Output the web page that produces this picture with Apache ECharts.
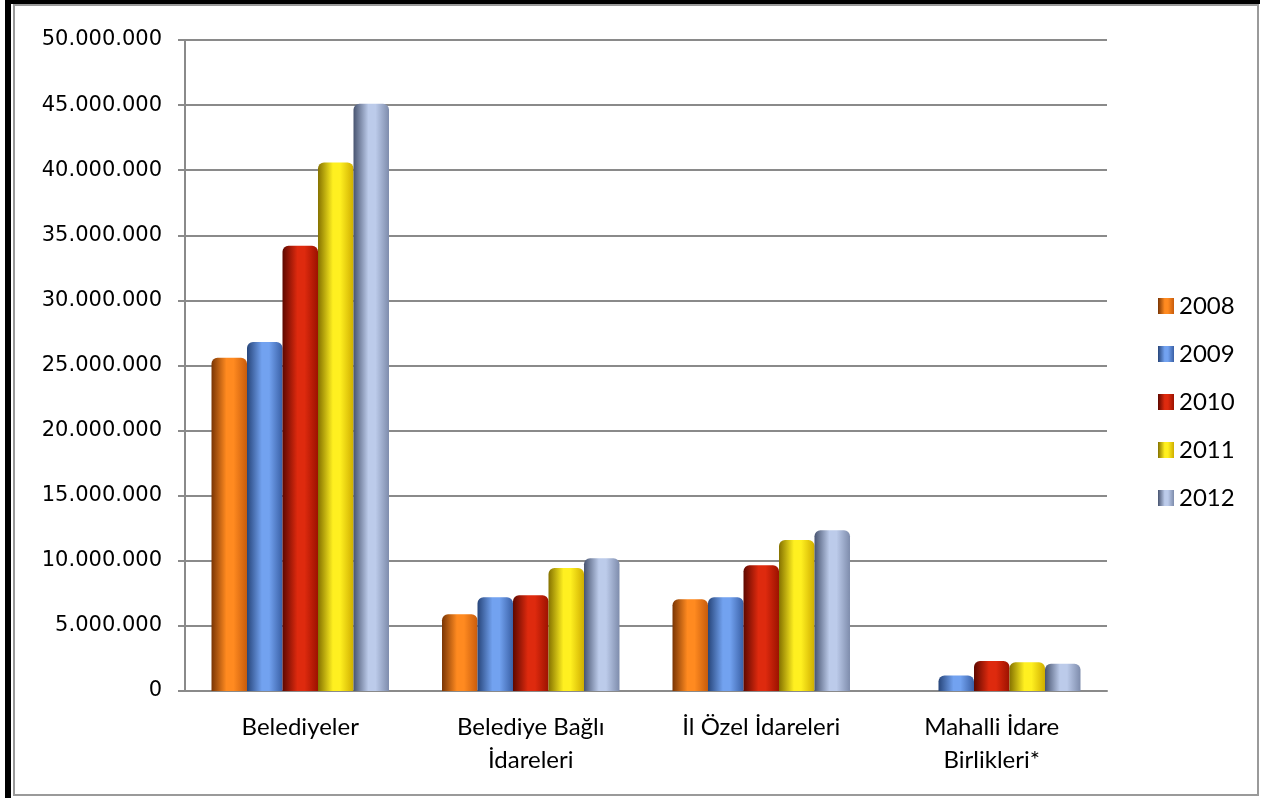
<!DOCTYPE html>
<html>
<head>
<meta charset="utf-8">
<title>Bar chart</title>
<script src="https://cdn.jsdelivr.net/npm/echarts@6/dist/echarts.min.js"></script>
<style>
  html, body { margin: 0; padding: 0; background: #fff; }
  #chart { position: absolute; left: 0; top: 0; width: 1262px; height: 798px; }
  .frame-black { position: absolute; left: 5px; top: 0; width: 1249px; height: 795px;
    border-left: 6px solid #000; border-top: 4px solid #000; border-bottom: 3px solid #000; pointer-events: none; }
  .frame-gray { position: absolute; left: 13px; top: 4px; width: 1242px; height: 788px;
    border: 2px solid #9a9a9a; pointer-events: none; }
</style>
</head>
<body>
<div id="chart"></div>
<div class="frame-black"></div>
<div class="frame-gray"></div>
<script>
var categories = ['Belediyeler', 'Belediye Bağlı\nİdareleri', 'İl Özel İdareleri', 'Mahalli İdare\nBirlikleri*']
var years = ['2008', '2009', '2010', '2011', '2012']
var data2008 = [25600000, 5900000, 7050000, null]
var data2009 = [26800000, 7200000, 7200000, 1200000]
var data2010 = [34200000, 7350000, 9650000, 2300000]
var data2011 = [40600000, 9450000, 11600000, 2200000]
var data2012 = [45100000, 10200000, 12350000, 2100000]

// dark edge, highlight, right edge
var shades = [
  ['#7a3504', '#ff8a20', '#c85c0c'],
  ['#27457a', '#72a2f0', '#3a60a6'],
  ['#5e0800', '#de2a0e', '#9c1200'],
  ['#857200', '#fff020', '#cfae00'],
  ['#485470', '#bccbea', '#7e8cac']
]

function cylinder(s) {
  return new echarts.graphic.LinearGradient(0, 0, 1, 0, [
    { offset: 0, color: s[0] },
    { offset: 0.42, color: s[1] },
    { offset: 0.62, color: s[1] },
    { offset: 1, color: s[2] }
  ])
}

function fmt(v) {
  return String(v).replace(/\B(?=(\d{3})+(?!\d))/g, '.')
}

var seriesData = [data2008, data2009, data2010, data2011, data2012]

var chart = echarts.init(document.getElementById('chart'))
chart.setOption({
  animation: false,
  backgroundColor: '#fff',
  grid: { left: 185, right: 155, top: 40, bottom: 107 },
  legend: {
    orient: 'vertical',
    left: 1153,
    top: 289,
    itemWidth: 16,
    itemHeight: 16,
    itemGap: 24,
    icon: 'rect',
    textStyle: { fontFamily: 'Lato', fontSize: 24, color: '#000', lineHeight: 22 },
    data: years
  },
  xAxis: {
    type: 'category',
    data: categories,
    axisLine: { lineStyle: { color: '#8a8a8a', width: 2 } },
    axisTick: { length: 8, lineStyle: { color: '#8a8a8a', width: 2 } },
    axisLabel: {
      margin: 20,
      fontFamily: 'Lato',
      fontSize: 24,
      lineHeight: 33,
      color: '#000'
    }
  },
  yAxis: {
    type: 'value',
    min: 0,
    max: 50000000,
    interval: 5000000,
    axisLine: { show: true, lineStyle: { color: '#8a8a8a', width: 2 } },
    axisTick: { show: true, length: 7, lineStyle: { color: '#8a8a8a', width: 2 } },
    splitLine: { lineStyle: { color: '#8a8a8a', width: 2 } },
    axisLabel: {
      margin: 23,
      fontFamily: 'DejaVu Sans',
      fontSize: 21,
      color: '#000',
      formatter: fmt
    }
  },
  series: years.map(function (y, i) {
    return {
      name: y,
      type: 'bar',
      data: seriesData[i],
      barGap: '0%',
      barCategoryGap: '23%',
      itemStyle: {
        color: cylinder(shades[i]),
        borderRadius: [6, 6, 0, 0]
      }
    }
  })
})
</script>
</body>
</html>
